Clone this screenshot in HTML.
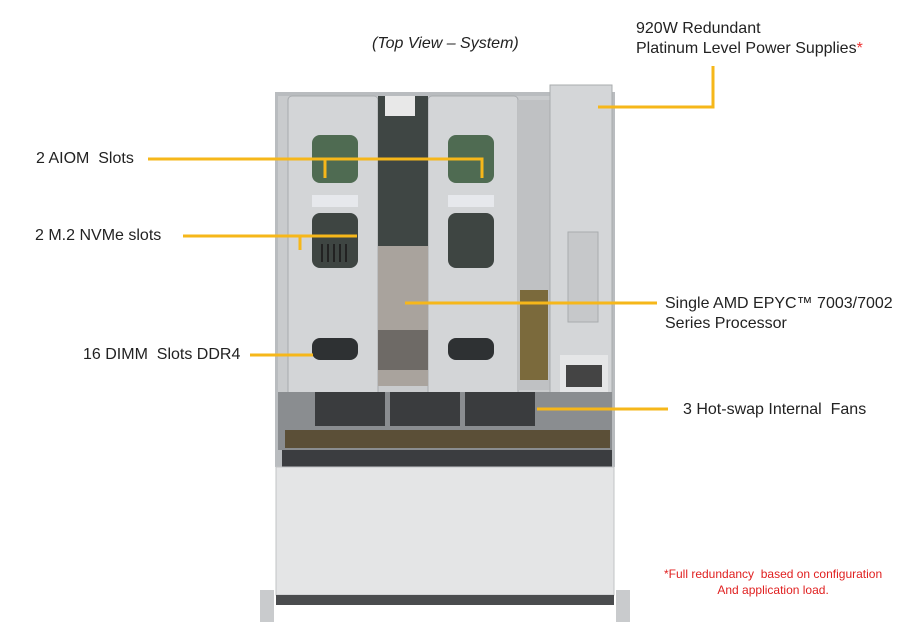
<!DOCTYPE html>
<html><head><meta charset="utf-8"><style>
html,body{margin:0;padding:0;background:#fff;}
body{width:916px;height:643px;position:relative;overflow:hidden;font-family:"Liberation Sans",Arial,sans-serif;}
.t{position:absolute;font-size:16px;color:#222;line-height:20px;white-space:nowrap;}
</style></head><body>
<svg width="916" height="643" style="position:absolute;left:0;top:0">
<rect x="275" y="92" width="340" height="375" fill="#b9bcbf"/>
<rect x="278" y="96" width="334" height="300" fill="#c9cbcd"/>
<rect x="288" y="96" width="90" height="300" rx="4" fill="#d3d5d7" stroke="#a8abae"/>
<rect x="312" y="135" width="46" height="48" rx="8" fill="#4f6b52"/>
<rect x="312" y="213" width="46" height="55" rx="8" fill="#3e4542"/>
<g stroke="#222" stroke-width="2"><path d="M322 244V262M328 244V262M334 244V262M340 244V262M346 244V262"/><path d="M458 244V262M464 244V262M470 244V262M476 244V262M482 244V262"/></g>
<rect x="312" y="338" width="46" height="22" rx="8" fill="#2e3133"/>
<rect x="312" y="195" width="46" height="12" fill="#e6e8ec"/>
<rect x="428" y="96" width="90" height="300" rx="4" fill="#d3d5d7" stroke="#a8abae"/>
<rect x="448" y="135" width="46" height="48" rx="8" fill="#4f6b52"/>
<rect x="448" y="213" width="46" height="55" rx="8" fill="#3e4542"/>
<rect x="448" y="338" width="46" height="22" rx="8" fill="#2e3133"/>
<rect x="448" y="195" width="46" height="12" fill="#e6e8ec"/>
<rect x="378" y="96" width="50" height="150" fill="#3f4644"/>
<rect x="378" y="246" width="50" height="140" fill="#a9a39d"/>
<rect x="378" y="330" width="50" height="40" fill="#6e6a66"/>
<rect x="385" y="96" width="30" height="20" fill="#e8e8e8"/>
<rect x="518" y="100" width="32" height="290" fill="#bfc1c3"/>
<rect x="520" y="290" width="28" height="90" fill="#7b6a3c"/>
<rect x="550" y="85" width="62" height="325" fill="#d4d6d8" stroke="#a9acae"/>
<rect x="568" y="232" width="30" height="90" fill="#c6c8ca" stroke="#a9acae"/>
<rect x="560" y="355" width="48" height="45" fill="#e5e6e7"/>
<rect x="566" y="365" width="36" height="22" fill="#444"/>
<rect x="278" y="392" width="334" height="58" fill="#8a8d90"/>
<rect x="315" y="392" width="70" height="34" fill="#3a3c3e"/>
<rect x="390" y="392" width="70" height="34" fill="#3a3c3e"/>
<rect x="465" y="392" width="70" height="34" fill="#3a3c3e"/>
<rect x="285" y="430" width="325" height="18" fill="#5b4f37"/>
<rect x="282" y="450" width="330" height="17" fill="#3b3d40"/>
<rect x="276" y="467" width="338" height="128" fill="#e4e5e6" stroke="#c2c4c6"/>
<rect x="276" y="595" width="338" height="10" fill="#4a4c4e"/>
<rect x="260" y="590" width="14" height="32" fill="#c9cbcd"/>
<rect x="616" y="590" width="14" height="32" fill="#c9cbcd"/>
<g stroke="#f6b71a" stroke-width="3" fill="none">
<path d="M148 159 H482 V178"/>
<path d="M325 159 V178"/>
<path d="M183 236 H357"/>
<path d="M300 236 V250"/>
<path d="M405 303 H657"/>
<path d="M250 355 H313"/>
<path d="M537 409 H668"/>
<path d="M598 107 H713 V66"/>
</g>
</svg>
<div class="t" style="left:372px;top:34px;font-style:italic;">(Top View – System)</div>
<div class="t" style="left:636px;top:19px;">920W Redundant<br>Platinum Level Power Supplies<span style="color:#e33">*</span></div>
<div class="t" style="left:36px;top:149px;">2 AIOM&nbsp; Slots</div>
<div class="t" style="left:35px;top:226px;">2 M.2 NVMe slots</div>
<div class="t" style="left:83px;top:345px;">16 DIMM&nbsp; Slots DDR4</div>
<div class="t" style="left:665px;top:294px;">Single AMD EPYC™ 7003/7002<br>Series Processor</div>
<div class="t" style="left:683px;top:400px;">3 Hot-swap Internal&nbsp; Fans</div>
<div class="t" style="left:664px;top:566px;font-size:12px;line-height:16px;color:#e02020;text-align:center;">*Full redundancy&nbsp; based on configuration<br>And application load.</div>
</body></html>
